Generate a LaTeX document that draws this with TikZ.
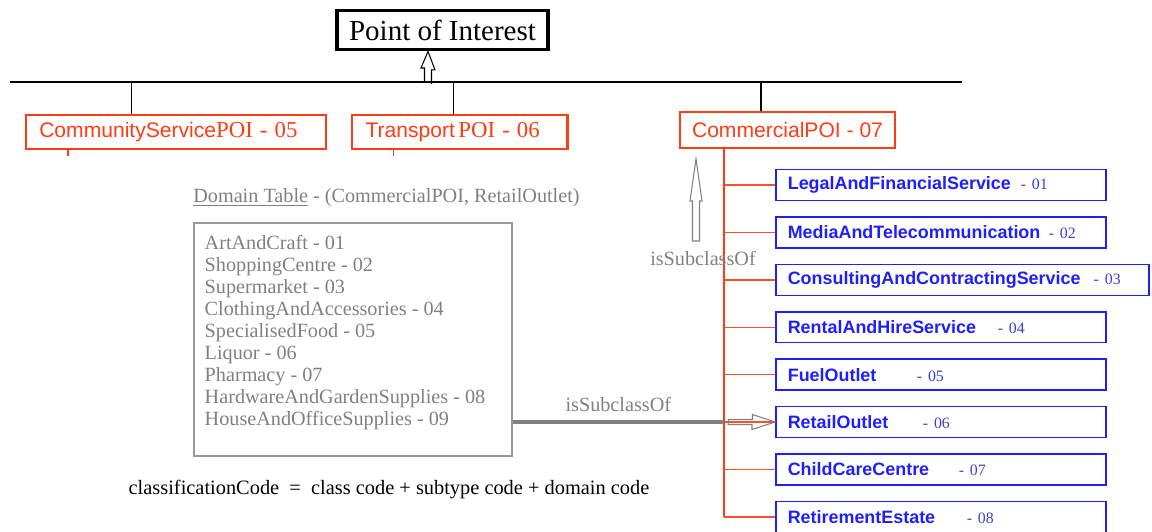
\documentclass[tikz,border=0pt]{standalone}
\usepackage{fontspec}
\setmainfont{Liberation Serif}
\setsansfont{Liberation Sans}
\usetikzlibrary{calc}

\definecolor{poired}{RGB}{255,60,20}
\definecolor{branchred}{RGB}{255,80,45}
\definecolor{subblue}{RGB}{30,30,255}
\definecolor{codeblue}{RGB}{60,60,210}
\definecolor{tablegray}{RGB}{128,128,128}

\tikzset{
	rootbox/.style={draw, line width=2.2pt, minimum width=4.22cm, minimum height=0.78cm, inner sep=0pt, font=\fontsize{16.5}{18}\selectfont},
	classbox/.style={draw=poired, line width=1.4pt, text=poired, inner xsep=0.27cm, inner ysep=0pt, align=left, font=\fontsize{12}{14}\selectfont},
	subbox/.style={draw=subblue, line width=0.9pt, text=subblue, minimum height=0.62cm, inner xsep=0.24cm, inner ysep=0pt, align=left, anchor=west, font=\sffamily\bfseries\fontsize{10.2}{12}\selectfont},
	tablebox/.style={draw=tablegray!80, line width=0.75pt, minimum width=6.36cm, minimum height=4.66cm},
	graytext/.style={text=tablegray, font=\fontsize{11.5}{12.47}\selectfont, inner sep=0pt},
	branch/.style={draw=branchred, line width=0.8pt},
	hollow/.style={draw=tablegray, line width=0.6pt},
}

\begin{document}
\begin{tikzpicture}[x=0.02cm, y=-0.02cm]
	\useasboundingbox (0,0) rectangle (1152,531);
	% root class and bus
	\node[rootbox] (poi) at (442.5,30) {Point of Interest};
	\draw[line width=0.8pt] (10,82) coordinate (busw) -- (962,82) coordinate (buse);
	\coordinate (j0) at (428,82);
	\draw[line width=0.6pt] ($(j0)+(-3.5,0)$) -- ++(0,-14) -- ++(-3.5,0) -- (j0 |- poi.south) -- ++(7,18.5) -- ++(-3.5,0) -- ++(0,14);

	% POI classes
	\node[classbox, minimum width=6.01cm, minimum height=0.68cm, text width=5.47cm] (community) at (176,132) {{\sffamily CommunityService}{\rmfamily\fontsize{13}{14}\selectfont POI - 05}};
	\node[classbox, minimum width=4.31cm, minimum height=0.68cm, text width=3.77cm] (transport) at (459.75,132) {{\sffamily Transport}\,{\rmfamily\fontsize{13}{14}\selectfont POI - 06}};
	\node[draw=poired, line width=1.4pt, text=poired, minimum width=4.30cm, minimum height=0.72cm, inner sep=0pt, font=\sffamily\fontsize{12}{14}\selectfont] (commercial) at (787.5,130) {CommercialPOI - 07};
	\foreach \x/\n in {131.5/community, 453.5/transport, 761/commercial} {
		\coordinate (j\n) at (\x,82);
		\draw[line width=0.8pt] (j\n) -- (j\n |- \n.north);
	}
	\draw[poired, line width=0.7pt] (community.south west) ++(43.5,0) -- ++(0,6);
	\draw[poired, line width=0.7pt] (transport.south west) ++(43,0) -- ++(0,6);

	% subtypes of CommercialPOI
	\coordinate (trunk) at (724,0);
	\foreach \nm/\cd/\off/\w [count=\i] in {
		LegalAndFinancialService/01/4.66/330,
		MediaAndTelecommunication/02/5.22/330,
		ConsultingAndContractingService/03/6.12/373,
		RentalAndHireService/04/4.20/330,
		FuelOutlet/05/2.58/330,
		RetailOutlet/06/2.70/330,
		ChildCareCentre/07/3.42/330,
		RetirementEstate/08/3.58/330}
	{
		\node[subbox, minimum width=\w*0.02cm, text width=\w*0.02cm-0.48cm] (sub\i) at (775,{185+47.4*(\i-1)})
			{\leavevmode\rlap{\hspace{\off cm}\normalfont\fontsize{9}{11}\selectfont\color{codeblue}- \cd}\nm};
		\draw[branch] (trunk |- sub\i.west) -- (sub\i.west);
	}
	\draw[poired, line width=1.1pt] (trunk |- commercial.south) -- (trunk |- sub8.west);

	% upward isSubclassOf
	\coordinate (vfoot) at (696,241);
	\coordinate (vtip) at (696,159);
	\draw[hollow] (vfoot) ++(-3.5,0) -- ++(0,-40) -- ++(-2.5,0) -- (vtip) -- ++(6,42) -- ++(-2.5,0) -- ++(0,40) -- cycle;
	\node[graytext] (isa1) at (703,258) {isSubclassOf};

	% domain table
	\node[graytext, anchor=west] (domtitle) at (193,198) {\underline{Domain Table} - (CommercialPOI, RetailOutlet)};
	\node[tablebox] (domain) at (353,339.5) {};
	\node[graytext, anchor=north west, align=left] (values) at ($(domain.north west)+(11,13)$) {ArtAndCraft - 01\\ShoppingCentre - 02\\Supermarket - 03\\ClothingAndAccessories - 04\\SpecialisedFood - 05\\Liquor - 06\\Pharmacy - 07\\HardwareAndGardenSupplies - 08\\HouseAndOfficeSupplies - 09};
	\draw[tablegray, line width=2.2pt] (domain.east |- sub6.west) -- (trunk |- sub6.west) node[midway, above=5pt, graytext] (isa2) {isSubclassOf};
	\coordinate (harrow) at ($(trunk |- sub6.west)+(4.5,0)$);
	\draw[hollow] (harrow) ++(0,-2.5) -- ++(24,0) -- ++(0,-5) -- (sub6.west) -- ++(-23,7.5) -- ++(0,-5) -- ++(-24,0) -- cycle;

	\node[font=\fontsize{11.6}{13}\selectfont, inner sep=0pt] (code) at (389,490) {classificationCode \ = \ class code + subtype code + domain code};
\end{tikzpicture}
\end{document}
